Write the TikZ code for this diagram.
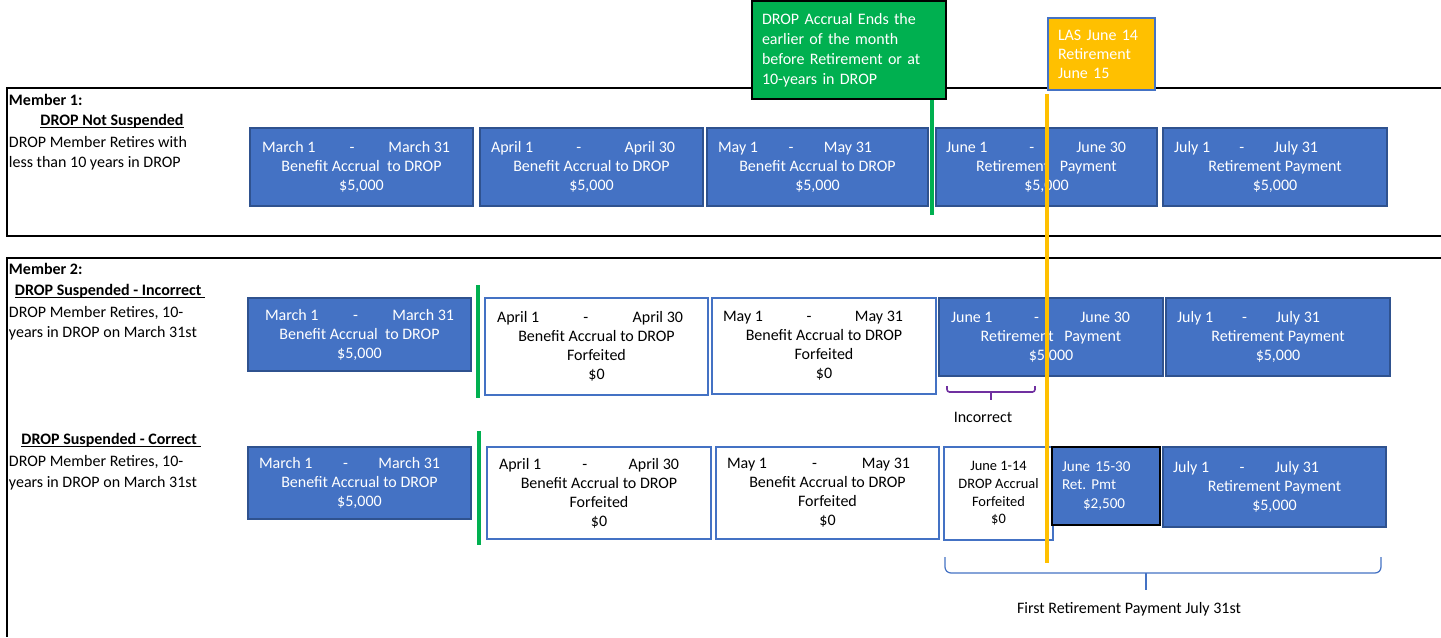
\documentclass[tikz,border=0pt]{standalone}
\usepackage{fontspec}
\setmainfont{Carlito}
\usetikzlibrary{positioning}

\definecolor{accblue}{HTML}{4472C4}
\definecolor{accedge}{HTML}{2F528F}
\definecolor{dropgreen}{HTML}{00B050}
\definecolor{lasorange}{HTML}{FFC000}
\definecolor{brpurple}{HTML}{7030A0}

\newdimen\px \px=0.02cm
\newcommand\boxfont{\fontsize{9.1}{10.8}\selectfont}
\newcommand\sidefont{\fontsize{9.1}{11.9}\selectfont}
\newcommand\smallfont{\fontsize{8.2}{10}\selectfont}
\newcommand\dates[4]{\makebox[\dimexpr\px*(#1+#2)\relax][l]{\makebox[#1\px]{#3\hfill-\hfill#4}}}
\newcommand\ulbox[1]{\underline{\raisebox{0pt}[\height][0pt]{#1}}}

\begin{document}
\begin{tikzpicture}[x=0.02cm, y=-0.02cm, inner sep=0pt, outer sep=0pt,
    wh/.style 2 args={minimum width=#1*0.02cm, minimum height=#2*0.02cm},
    month/.style={anchor=north west, align=center, font=\boxfont},
    paid/.style={month, fill=accblue, draw=accedge, line width=0.8pt, text=white},
    lost/.style={month, fill=white, draw=accblue, line width=0.8pt, text=black},
    frame/.style={line width=1.2pt},
    cut/.style={dropgreen, line width=1.8pt},
    side/.style={anchor=base west, font=\sidefont},
    head/.style={anchor=base, font=\sidefont\bfseries}]
    \useasboundingbox (0,0) rectangle (1441,637);
    \fill[white] (0,0) rectangle (1441,637);

    \draw[frame] (1441,88) -- (7,88) -- (7,236) -- (1441,236);
    \draw[frame] (1441,258) -- (7,258) -- (7,637);

    \node[anchor=north west, wh={194}{98}, fill=dropgreen, draw=black, line width=0.8pt,
        text=white, align=left, text width=3.48cm, inner xsep=0.2cm,
        font=\fontsize{9.1}{11.3}\selectfont] (ends) at (752,1)
        {DROP Accrual Ends the\\earlier of the month\\before Retirement or at\\10-years in DROP};
    \node[anchor=north west, wh={107}{72}, fill=lasorange, draw=accblue, line width=0.6pt,
        text=white, align=left, text width=1.74cm, inner xsep=0.2cm,
        font=\fontsize{9.1}{10.8}\selectfont] (las) at (1048,18)
        {LAS June 14\\Retirement\\June 15};

    \node[side, font=\sidefont\bfseries] (m1_title) at (9,105) {Member 1:};
    \node[head] (m1_head) at (112,125) {\ulbox{DROP Not Suspended}};
    \node[side] (m1_l1) at (9,147) {DROP Member Retires with};
    \node[side] (m1_l2) at (9,167) {less than 10 years in DROP};

    \node[side, font=\sidefont\bfseries] (m2_title) at (9,274) {Member 2:};
    \node[head] (m2_head) at (110,295) {\ulbox{DROP Suspended - Incorrect\ }};
    \node[side] (m2_l1) at (9,317) {DROP Member Retires, 10-};
    \node[side] (m2_l2) at (9,337) {years in DROP on March 31st};
    \node[head] (m3_head) at (111,444) {\ulbox{DROP Suspended - Correct\ }};
    \node[side] (m3_l1) at (9,466) {DROP Member Retires, 10-};
    \node[side] (m3_l2) at (9,487) {years in DROP on March 31st};

    \node[paid, wh={223}{78}] (r1_mar) at (250,128)
        {\dates{188}{11}{March 1}{March 31}\\Benefit Accrual\ \ to DROP\\\$5,000};
    \node[paid, wh={223}{78}] (r1_apr) at (480,128)
        {\dates{184}{17}{April 1}{April 30}\\Benefit Accrual to DROP\\\$5,000};
    \node[paid, wh={221}{78}] (r1_may) at (707,128)
        {\dates{154}{45}{May 1}{May 31}\\Benefit Accrual to DROP\\\$5,000};
    \node[paid, wh={221}{78}] (r1_jun) at (936,128)
        {\dates{180}{21}{June 1}{June 30}\\Retirement\ \ \ Payment\\\$5,000};
    \node[paid, wh={224}{78}] (r1_jul) at (1163,128)
        {\dates{144}{58}{July 1}{July 31}\\Retirement Payment\\\$5,000};

    \node[paid, wh={223}{73}] (r2_mar) at (248,298)
        {\dates{189}{0}{March 1}{March 31}\\Benefit Accrual\ \ to DROP\\\$5,000};
    \node[lost, wh={223}{97}] (r2_apr) at (485,298)
        {\dates{186}{13}{April 1}{April 30}\\Benefit Accrual to DROP\\Forfeited\\\$0};
    \node[lost, wh={224}{96}] (r2_may) at (712,298)
        {\dates{180}{22}{May 1}{May 31}\\Benefit Accrual to DROP\\Forfeited\\\$0};
    \node[paid, wh={224}{78}] (r2_jun) at (939,298)
        {\dates{179}{21}{June 1}{June 30}\\Retirement\ \ \ Payment\\\$5,000};
    \node[paid, wh={224}{78}] (r2_jul) at (1166,298)
        {\dates{143}{59}{July 1}{July 31}\\Retirement Payment\\\$5,000};

    \node[paid, wh={223}{72}] (r3_mar) at (248,447)
        {\dates{181}{20}{March 1}{March 31}\\Benefit Accrual to DROP\\\$5,000};
    \node[lost, wh={224}{92}] (r3_apr) at (487,447)
        {\dates{180}{20}{April 1}{April 30}\\Benefit Accrual to DROP\\Forfeited\\\$0};
    \node[lost, wh={223}{92}] (r3_may) at (716,447)
        {\dates{183}{18}{May 1}{May 31}\\Benefit Accrual to DROP\\Forfeited\\\$0};
    \node[lost, wh={109}{93}, font=\smallfont] (r3_j14) at (944,447)
        {June 1-14\\DROP Accrual\\Forfeited\\\$0};
    \node[paid, wh={108}{78}, draw=black, line width=1pt, align=left, text width=1.76cm,
        inner xsep=0.2cm, font=\fontsize{8.6}{10.4}\selectfont] (r3_j30) at (1052,447)
        {June 15-30\\Ret.\ Pmt\\\hspace*{21\px}\$2,500};
    \node[paid, wh={223}{80}] (r3_jul) at (1163,447)
        {\dates{146}{57}{July 1}{July 31}\\Retirement Payment\\\$5,000};

    \coordinate (g1_top) at (932,100);
    \coordinate (g1_bot) at (932,215);
    \coordinate (g2_top) at (478,285);
    \coordinate (g2_bot) at (478,398);
    \coordinate (g3_top) at (479,431);
    \coordinate (g3_bot) at (479,545);
    \draw[cut] (g1_top) -- (g1_bot);
    \draw[cut] (g2_top) -- (g2_bot);
    \draw[cut] (g3_top) -- (g3_bot);

    \coordinate (las_top) at (1047,94);
    \coordinate (las_bot) at (1047,563);
    \draw[lasorange, line width=2.3pt] (las_top) -- (las_bot);

    \coordinate (inc_l) at (947,386);
    \coordinate (inc_r) at (1035,386);
    \coordinate (inc_mid) at (991,392);
    \coordinate (inc_tip) at (991,400);
    \draw[brpurple, line width=0.9pt, rounded corners=0.05cm] (inc_l) |- (inc_mid) -| (inc_r);
    \draw[brpurple, line width=0.9pt] (inc_mid) -- (inc_tip);
    \node[font=\boxfont] (inc_lbl) at (983,417) {Incorrect};

    \coordinate (pay_l) at (945,557);
    \coordinate (pay_r) at (1381,557);
    \coordinate (pay_mid) at (1146,573);
    \coordinate (pay_tip) at (1146,590);
    \draw[accblue, line width=0.7pt, rounded corners=0.12cm] (pay_l) |- (pay_mid) -| (pay_r);
    \draw[accblue, line width=0.7pt] (pay_mid) -- (pay_tip);
    \node[font=\boxfont] (pay_lbl) at (1129,609) {First Retirement Payment July 31st};
\end{tikzpicture}
\end{document}
